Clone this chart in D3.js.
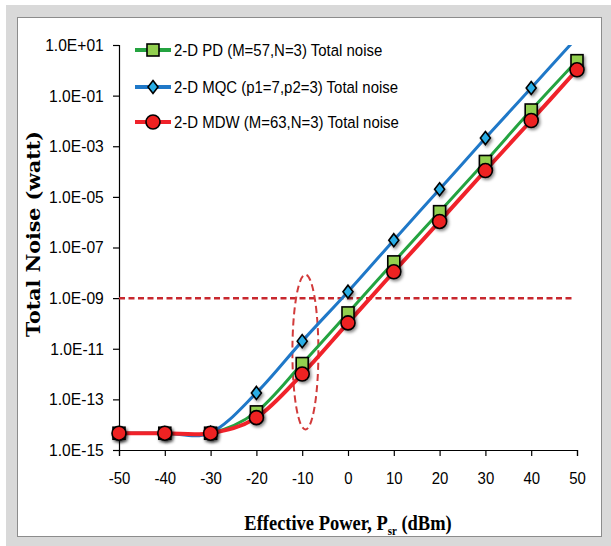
<!DOCTYPE html>
<html>
<head>
<meta charset="utf-8">
<script src="https://cdn.jsdelivr.net/npm/d3@7"></script>
<style>
body { margin: 0; background: #fff; }
svg { display: block; }
.tick text { font-family: "Liberation Sans", sans-serif; font-size: 17px; fill: #000; }
</style>
</head>
<body>
<svg id="chart" width="611" height="546"></svg>
<script>
// data
var power = [-50, -40, -30, -20, -10, 0, 10, 20, 30, 40, 50];
var pdNoise  = [4.6e-15, 4.6e-15, 4.6e-15, 3.2e-14, 2.6e-12, 2.6e-10, 2.7e-8, 2.6e-6, 2.5e-4, 2.7e-2, 2.4];
var mqcNoise = [4.6e-15, 4.6e-15, 4.8e-15, 1.8e-13, 2.0e-11, 1.8e-9, 1.95e-7, 2.0e-5, 2.1e-3, 2.0e-1, 20];
var mdwNoise = [4.6e-15, 4.6e-15, 4.6e-15, 1.9e-14, 1.0e-12, 1.05e-10, 1.1e-8, 1.07e-6, 1.1e-4, 1.04e-2, 1.05];
var seriesNames = ["2-D PD (M=57,N=3) Total noise", "2-D MQC (p1=7,p2=3) Total noise", "2-D MDW (M=63,N=3) Total noise"];
var xTicks = [-50, -40, -30, -20, -10, 0, 10, 20, 30, 40, 50];
var yTicks = [1e1, 1e-1, 1e-3, 1e-5, 1e-7, 1e-9, 1e-11, 1e-13, 1e-15];
var yTickLabels = ["1.0E+01", "1.0E-01", "1.0E-03", "1.0E-05", "1.0E-07", "1.0E-09", "1.0E-11", "1.0E-13", "1.0E-15"];
var threshold = 1e-9;
var thresholdX = [-50, 49.5];
// ellipse around the -10 dBm points: centre x, top and bottom values
var ringX = -9.3, ringTop = 8.5e-9, ringBottom = 6.5e-15;

var svg = d3.select("#chart");

// frame
svg.append("rect").attr("x", 6).attr("y", 5).attr("width", 605).attr("height", 541).style("fill", "#d9d9d9");
svg.append("rect").attr("x", 17.5).attr("y", 17.5).attr("width", 584).attr("height", 519)
  .style("fill", "#fff").style("stroke", "#8c8c8c").style("stroke-width", 1);

var defs = svg.append("defs");
var sh = defs.append("filter").attr("id", "shadow").attr("x", "-50%").attr("y", "-50%").attr("width", "200%").attr("height", "200%");
sh.append("feDropShadow").attr("dx", 1.5).attr("dy", 2).attr("stdDeviation", 1.5).attr("flood-color", "#000").attr("flood-opacity", 0.45);
defs.append("clipPath").attr("id", "plotclip").append("rect")
  .attr("x", 119).attr("y", 45).attr("width", 460).attr("height", 406);

var x = d3.scaleLinear().domain([-50, 50]).range([119, 577]);
var y = d3.scaleLog().domain([1e-15, 1e1]).range([450, 45]);

// axes
var xAxis = svg.append("g").attr("transform", "translate(0,450)")
  .call(d3.axisBottom(x).tickValues(xTicks).tickSize(6).tickPadding(15).tickFormat(function(d) { return String(d); }));
var yAxis = svg.append("g").attr("transform", "translate(119,0)")
  .call(d3.axisLeft(y).tickValues(yTicks).tickSize(6).tickPadding(9).tickFormat(function(d, i) { return yTickLabels[i]; }));
[xAxis, yAxis].forEach(function(a) {
  a.select(".domain").style("stroke", "#000").style("stroke-width", 1.2);
  a.selectAll(".tick line").style("stroke", "#000").style("stroke-width", 1.2);
});
xAxis.selectAll(".tick text").attr("dy", "0.75em").attr("transform", "scale(0.88,1)");
yAxis.selectAll(".tick text").attr("x", -16.5).attr("transform", "scale(0.92,1)");

// axis titles
svg.append("text").attr("transform", "translate(40,234) rotate(-90)").attr("text-anchor", "middle")
  .attr("textLength", 206).attr("lengthAdjust", "spacingAndGlyphs")
  .style("font-family", "'DejaVu Serif', serif").style("font-weight", "bold").style("font-size", "18px")
  .text("Total Noise (watt)");
var xt = svg.append("text").attr("transform", "translate(348,530) scale(0.84,1)").attr("text-anchor", "middle")
  .style("font-family", "'Liberation Serif', serif").style("font-weight", "bold").style("font-size", "22px");
xt.append("tspan").text("Effective Power, P");
xt.append("tspan").attr("dy", 5).style("font-size", "13px").text("sr");
xt.append("tspan").attr("dy", -5).text(" (dBm)");

// threshold and ellipse
svg.append("line").attr("x1", x(thresholdX[0])).attr("x2", x(thresholdX[1]))
  .attr("y1", y(threshold)).attr("y2", y(threshold))
  .style("stroke", "#c8282e").style("stroke-width", 2.5).style("stroke-dasharray", "6,3.5");
svg.append("ellipse").attr("cx", x(ringX)).attr("cy", (y(ringTop) + y(ringBottom)) / 2)
  .attr("rx", 13).attr("ry", (y(ringBottom) - y(ringTop)) / 2)
  .style("fill", "none").style("stroke", "#d23a3a").style("stroke-width", 2).style("stroke-dasharray", "7,4");

var series = [
  { name: seriesNames[0], values: pdNoise,  line: "#24a340", fill: "#92d050", shape: "square", w: 3 },
  { name: seriesNames[1], values: mqcNoise, line: "#1f78c8", fill: "#29aee6", shape: "diamond", w: 3 },
  { name: seriesNames[2], values: mdwNoise, line: "#f0222a", fill: "#ee2020", shape: "circle", w: 4 }
];

var line = d3.line().x(function(d) { return x(d[0]); }).y(function(d) { return y(d[1]); })
  .curve(d3.curveCardinal.tension(0));

function marker(g, shape, fill) {
  var m;
  if (shape === "square") m = g.append("rect").attr("x", -6).attr("y", -6).attr("width", 12).attr("height", 12);
  else if (shape === "diamond") m = g.append("path").attr("d", "M0,-6.5L5,0L0,6.5L-5,0Z");
  else m = g.append("circle").attr("r", 7);
  m.style("fill", fill).style("stroke", "#000").style("stroke-width", 1.6);
}

var plot = svg.append("g").attr("clip-path", "url(#plotclip)");
series.forEach(function(s) {
  var pts = power.map(function(p, i) { return [p, s.values[i]]; });
  plot.append("path").attr("d", line(pts)).style("fill", "none")
    .style("stroke", s.line).style("stroke-width", s.w);
  pts.filter(function(d) { return d[1] <= 10; }).forEach(function(d) {
    var g = svg.append("g").attr("transform", "translate(" + x(d[0]) + "," + y(d[1]) + ")").attr("filter", "url(#shadow)");
    marker(g, s.shape, s.fill);
  });
});

// legend
var rows = [50, 87, 122];
series.forEach(function(s, i) {
  svg.append("line").attr("x1", 135).attr("x2", 171).attr("y1", rows[i]).attr("y2", rows[i])
    .style("stroke", s.line).style("stroke-width", 4);
  var g = svg.append("g").attr("transform", "translate(153," + rows[i] + ")");
  marker(g, s.shape, s.fill);
  svg.append("text").attr("transform", "translate(174," + rows[i] + ") scale(0.88,1)").attr("dy", "0.35em")
    .style("font-family", "'Liberation Sans', sans-serif").style("font-size", "17px")
    .text(s.name);
});
</script>
</body>
</html>
